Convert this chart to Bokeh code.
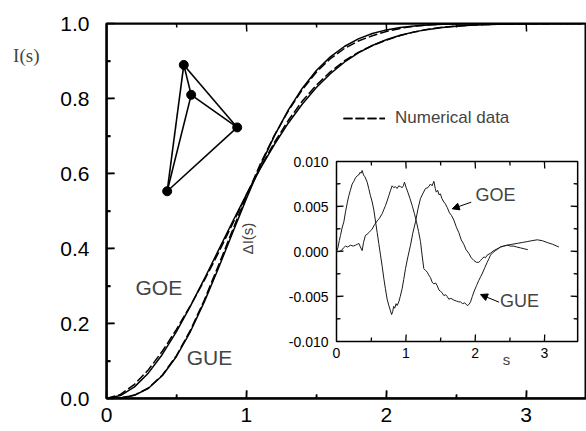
import numpy as np
from bokeh.plotting import figure
from bokeh.models import (Range1d, LinearAxis, FixedTicker, Label, Arrow, NormalHead,
                          Legend, LegendItem)
from bokeh.embed import file_html
from bokeh.resources import INLINE

# ---------------- data ----------------
S_GRID = [0.0, 0.1, 0.2, 0.3, 0.4, 0.5, 0.6, 0.7, 0.8, 0.9, 1.0, 1.1, 1.2, 1.3, 1.4,
          1.5, 1.6, 1.7, 1.8, 1.9, 2.0, 2.1, 2.2, 2.3, 2.4, 2.5, 2.6, 2.7, 2.8, 2.9,
          3.0, 3.1, 3.2, 3.3, 3.4]
I_GOE = [0.0, 0.00782, 0.03093, 0.06825, 0.11809, 0.17828, 0.24629, 0.31943, 0.39510,
         0.47069, 0.54406, 0.61338, 0.67728, 0.73481, 0.78548, 0.82917, 0.86608, 0.89667,
         0.92150, 0.94129, 0.95679, 0.96868, 0.97766, 0.98431, 0.98915, 0.99262, 0.99506,
         0.99674, 0.99788, 0.99865, 0.99915, 0.99947, 0.99968, 0.99981, 0.99989]
I_GUE = [0.0, 0.00107, 0.00839, 0.02725, 0.06130, 0.11200, 0.17861, 0.25843, 0.34734,
         0.44050, 0.53304, 0.62073, 0.70025, 0.76950, 0.82755, 0.87447, 0.91108, 0.93871,
         0.95889, 0.97316, 0.98295, 0.98945, 0.99365, 0.99628, 0.99788, 0.99882, 0.99936,
         0.99966, 0.99983, 0.99991, 0.99996, 0.99998, 0.99999, 1.0, 1.0]
# deviation of the numerical data from theory, read on the same grid
D_GOE_GRID = [0.0, 0.0031, 0.0069, 0.0084, 0.0085, 0.0059, 0.0015, -0.0038, -0.0069, -0.0056,
              -0.0018, 0.0018, 0.0055, 0.0071, 0.0078, 0.0064, 0.0049, 0.0034, 0.0016, -0.0001,
              -0.0011, -0.0008, -0.0003, 0.0002, 0.0006, 0.0007, 0.0005, 0.0003, 0.0002, 0.0,
              0.0, 0.0, 0.0, 0.0, 0.0]
D_GUE_GRID = [0.0, 0.0004, 0.0007, 0.0008, 0.0012, 0.0024, 0.0035, 0.0050, 0.0072, 0.0073,
              0.0072, 0.0049, 0.0016, -0.0023, -0.0036, -0.0044, -0.0050, -0.0054, -0.0057,
              -0.0059, -0.0041, -0.0025, -0.0008, 0.0001, 0.0006, 0.0008, 0.0009, 0.0010,
              0.0012, 0.0013, 0.0011, 0.0008, 0.0005, 0.0, 0.0]

# inset: Delta I(s)
DS_GOE = [0.000, 0.020, 0.040, 0.058, 0.080, 0.106, 0.130, 0.155, 0.178, 0.200, 0.226, 0.250,
          0.275, 0.298, 0.320, 0.340, 0.355, 0.370, 0.390, 0.410, 0.443, 0.465, 0.490, 0.515,
          0.539, 0.560, 0.587, 0.610, 0.635, 0.660, 0.683, 0.705, 0.731, 0.755, 0.779, 0.795,
          0.810, 0.825, 0.840, 0.860, 0.875, 0.899, 0.920, 0.948, 0.970, 0.996, 1.030, 1.068,
          1.100, 1.140, 1.175, 1.212, 1.250, 1.284, 1.320, 1.356, 1.380, 1.405, 1.425, 1.440,
          1.460, 1.480, 1.500, 1.520, 1.549, 1.570, 1.597, 1.630, 1.660, 1.693, 1.730, 1.765,
          1.800, 1.837, 1.870, 1.909, 1.945, 1.982, 2.020, 2.054, 2.080, 2.100, 2.130, 2.150,
          2.174, 2.220, 2.270, 2.320, 2.367, 2.410, 2.463, 2.510, 2.559, 2.600, 2.655, 2.710,
          2.761]
DI_GOE = [0.0000, 0.0004, 0.0012, 0.0018, 0.0026, 0.0033, 0.0044, 0.0054, 0.0062, 0.0068,
          0.0075, 0.0078, 0.0082, 0.0084, 0.0085, 0.0088, 0.0087, 0.0090, 0.0085, 0.0083,
          0.0077, 0.0070, 0.0062, 0.0055, 0.0046, 0.0035, 0.0021, 0.0009, -0.0004, -0.0017,
          -0.0030, -0.0041, -0.0053, -0.0060, -0.0066, -0.0070, -0.0067, -0.0061, -0.0063,
          -0.0058, -0.0060, -0.0056, -0.0050, -0.0041, -0.0031, -0.0019, -0.0006, 0.0007,
          0.0020, 0.0033, 0.0047, 0.0059, 0.0065, 0.0070, 0.0071, 0.0075, 0.0073, 0.0078,
          0.0070, 0.0066, 0.0068, 0.0063, 0.0064, 0.0059, 0.0055, 0.0053, 0.0049, 0.0043,
          0.0040, 0.0035, 0.0027, 0.0021, 0.0013, 0.0008, 0.0002, -0.0002, -0.0007, -0.0010,
          -0.0012, -0.0012, -0.0010, -0.0008, -0.0006, -0.0007, -0.0004, -0.0002, 0.0001,
          0.0003, 0.0005, 0.0006, 0.0007, 0.0006, 0.0006, 0.0005, 0.0004, 0.0003, 0.0002]
DS_GUE = [0.000, 0.040, 0.070, 0.100, 0.130, 0.160, 0.202, 0.240, 0.274, 0.300, 0.322, 0.345,
          0.370, 0.390, 0.418, 0.440, 0.467, 0.490, 0.515, 0.550, 0.587, 0.620, 0.659, 0.685,
          0.707, 0.730, 0.755, 0.780, 0.803, 0.825, 0.851, 0.875, 0.899, 0.925, 0.948, 0.965,
          0.981, 1.005, 1.029, 1.060, 1.092, 1.125, 1.154, 1.185, 1.212, 1.235, 1.260, 1.285,
          1.309, 1.330, 1.356, 1.380, 1.405, 1.430, 1.453, 1.480, 1.500, 1.525, 1.549, 1.575,
          1.597, 1.621, 1.650, 1.693, 1.730, 1.765, 1.789, 1.820, 1.850, 1.886, 1.910, 1.934,
          1.960, 1.982, 2.020, 2.054, 2.080, 2.100, 2.140, 2.174, 2.200, 2.222, 2.260, 2.294,
          2.330, 2.367, 2.410, 2.463, 2.530, 2.607, 2.680, 2.751, 2.820, 2.896, 2.970, 3.040,
          3.120, 3.209]
DI_GUE = [0.0000, 0.0000, 0.0001, 0.0004, 0.0006, 0.0005, 0.0007, 0.0006, 0.0007, 0.0008,
          0.0009, 0.0005, 0.0001, 0.0010, 0.0018, 0.0019, 0.0021, 0.0023, 0.0025, 0.0030,
          0.0034, 0.0037, 0.0042, 0.0047, 0.0051, 0.0056, 0.0062, 0.0068, 0.0073, 0.0071,
          0.0072, 0.0070, 0.0073, 0.0072, 0.0071, 0.0073, 0.0077, 0.0071, 0.0066, 0.0059,
          0.0051, 0.0042, 0.0033, 0.0022, 0.0011, -0.0004, -0.0019, -0.0021, -0.0023, -0.0026,
          -0.0029, -0.0034, -0.0036, -0.0035, -0.0038, -0.0043, -0.0044, -0.0046, -0.0049,
          -0.0048, -0.0050, -0.0053, -0.0052, -0.0054, -0.0055, -0.0056, -0.0056, -0.0058,
          -0.0057, -0.0060, -0.0059, -0.0056, -0.0050, -0.0045, -0.0038, -0.0032, -0.0028,
          -0.0025, -0.0018, -0.0012, -0.0008, -0.0004, -0.0001, 0.0001, 0.0003, 0.0005,
          0.0006, 0.0007, 0.0008, 0.0009, 0.0010, 0.0011, 0.0012, 0.0013, 0.0012, 0.0010,
          0.0008, 0.0005]

# graph drawing (tetrahedron-like) in main-plot coordinates
NODE_X = [0.5525, 0.6054, 0.9342, 0.4336]
NODE_Y = [0.8896, 0.8098, 0.7229, 0.5527]
EDGES = [(0, 1), (0, 2), (0, 3), (1, 2), (1, 3), (2, 3)]

X_TICKS = [0.0, 1.0, 2.0, 3.0]
X_TICK_LABELS = ["0", "1", "2", "3"]
X_MINOR = [0.5, 1.5, 2.5]
Y_TICKS = [0.0, 0.2, 0.4, 0.6, 0.8, 1.0]
Y_MINOR = [0.1, 0.3, 0.5, 0.7, 0.9]
Y_TICK_LABELS = ["0.0", "0.2", "0.4", "0.6", "0.8", "1.0"]
X_MAX = 3.6

IN_X_TICKS = [0.0, 1.0, 2.0, 3.0]
IN_X_LABELS = ["0", "1", "2", "3"]
IN_X_MINOR = [0.5, 1.5, 2.5]
IN_Y_TICKS = [-0.01, -0.005, 0.0, 0.005, 0.01]
IN_Y_LABELS = ["-0.010", "-0.005", "0.000", "0.005", "0.010"]
IN_Y_MINOR = [-0.0075, -0.0025, 0.0025, 0.0075]
IN_X_END = 3.48
IN_Y_MIN, IN_Y_MAX = -0.01, 0.01

FONT = "Liberation Sans"
PX_X, PX_Y = 139.9, 375.0          # main plot pixels per data unit
IPX_X, IPX_Y = 69.3, 9000.0        # inset pixels per data unit
FL, FT, FB = 106, 23, 398          # frame left / top / bottom (px) = axis lines
FW, FH = 586 - FL, FB - FT
SLANT = 0.35


def fa(v):
    return np.asarray(v, dtype=float)


# ---------------- figure ----------------
p = figure(width=586, height=431, output_backend="svg", toolbar_location=None,
           x_range=Range1d(0.0, FW / PX_X), y_range=Range1d(0.0, FH / PX_Y),
           min_border_left=FL, min_border_right=0, min_border_top=FT,
           min_border_bottom=431 - FB)
p.grid.visible = False
p.outline_line_color = "black"
p.outline_line_width = 2
p.background_fill_color = "white"
p.border_fill_color = "white"

p.extra_x_ranges = {"ix": Range1d(-(336 - FL) / IPX_X, -(336 - FL) / IPX_X + FW / IPX_X)}
p.extra_y_ranges = {"iy": Range1d(-(FB - 251) / IPX_Y, (251 - FT) / IPX_Y)}


def style_axis(ax, size, standoff, font=FONT):
    ax.axis_line_color = "black"
    ax.axis_line_width = 2
    ax.major_tick_line_color = "black"
    ax.minor_tick_line_color = "black"
    ax.major_tick_line_width = 1.5
    ax.minor_tick_line_width = 1.5
    ax.major_tick_in = 8
    ax.major_tick_out = 0
    ax.minor_tick_in = 4
    ax.minor_tick_out = 0
    ax.major_label_text_font = font
    ax.major_label_text_color = "black"
    ax.major_label_text_font_size = size
    ax.major_label_standoff = standoff


xa = p.xaxis[0]
xa.ticker = FixedTicker(ticks=X_TICKS, minor_ticks=X_MINOR)
xa.major_label_overrides = {t: l for t, l in zip(X_TICKS, X_TICK_LABELS)}
style_axis(xa, "21px", 9)

ya = p.yaxis[0]
ya.ticker = FixedTicker(ticks=Y_TICKS, minor_ticks=Y_MINOR)
ya.major_label_overrides = {t: l for t, l in zip(Y_TICKS, Y_TICK_LABELS)}
style_axis(ya, "21px", 17)

# outer left axis carrying the "I(s)" title
ISL_Y = 0.915
ya2 = LinearAxis(ticker=FixedTicker(ticks=[ISL_Y], minor_ticks=[]),
                 major_label_overrides={ISL_Y: "I(s)"})
ya2.axis_line_color = None
ya2.major_tick_line_color = None
ya2.minor_tick_line_color = None
ya2.major_tick_in = 0
ya2.major_tick_out = 0
ya2.major_label_text_font = "Liberation Serif"
ya2.major_label_text_font_size = "19px"
ya2.major_label_standoff = 18
p.add_layout(ya2, "left")


def tick_segments(ticks_lens, base, sign, ppx_along, along_x=True):
    a0, b0, a1, b1 = [], [], [], []
    for t, ln in ticks_lens:
        a0.append(t); b0.append(base)
        a1.append(t + SLANT / ppx_along); b1.append(base + sign * ln)
    if along_x:
        return fa(a0), fa(b0), fa(a1), fa(b1)
    return fa(b0), fa(a0), fa(b1), fa(a1)


# frame edges and inward ticks drawn as glyphs as well (top edge ticks included)
p.quad(left=fa([0.0]), right=fa([X_MAX]), bottom=fa([0.0]), top=fa([1.0]),
       fill_color=None, line_color="black", line_width=2)
xt = [(t, 8 / PX_Y) for t in X_TICKS[1:]] + [(t, 4 / PX_Y) for t in X_MINOR]
yt = [(t, 8 / PX_X) for t in Y_TICKS[1:-1]] + [(t, 4 / PX_X) for t in Y_MINOR]
for seg in [tick_segments(xt, 0.0, +1, PX_X), tick_segments(xt, 1.0, -1, PX_X),
            tick_segments(yt, 0.0, +1, PX_Y, along_x=False)]:
    p.segment(*seg, line_color="black", line_width=1.5)

# main curves
I_GOE_NUM = fa(I_GOE) + fa(D_GOE_GRID)
I_GUE_NUM = fa(I_GUE) + fa(D_GUE_GRID)

p.line(fa(S_GRID), fa(I_GOE), line_color="black", line_width=1.5)
p.line(fa(S_GRID), fa(I_GUE), line_color="black", line_width=1.5)
r1 = p.line(fa(S_GRID), I_GOE_NUM, line_color="black", line_width=1.5, line_dash="9 3")
r2 = p.line(fa(S_GRID), I_GUE_NUM, line_color="black", line_width=1.5, line_dash="9 3")

legend = Legend(items=[LegendItem(label="Numerical data", renderers=[r1, r2])],
                location=(343 - FL, FB - 128), border_line_color=None,
                background_fill_alpha=0, padding=0, margin=0, glyph_width=42,
                glyph_height=20, label_standoff=10, label_text_font=FONT,
                label_text_font_size="17px")
p.add_layout(legend)

# graph drawing
ex0 = fa([NODE_X[a] for a, b in EDGES])
ey0 = fa([NODE_Y[a] for a, b in EDGES])
ex1 = fa([NODE_X[b] for a, b in EDGES])
ey1 = fa([NODE_Y[b] for a, b in EDGES])
p.segment(ex0, ey0, ex1, ey1, line_color="black", line_width=1.6)
p.scatter(fa(NODE_X), fa(NODE_Y), size=9, color="black")

# text labels in main plot
for txt, x, y in [("GOE", 0.374, 0.295), ("GUE", 0.736, 0.109)]:
    p.add_layout(Label(x=x, y=y, text=txt, text_font=FONT, text_font_size="21px",
                       text_align="center", text_baseline="middle"))
p.add_layout(Label(x=2.416, y=-0.08, text="s", text_font=FONT, text_font_size="15px",
                   text_align="center", text_baseline="middle"))

# ---------------- inset ----------------
kw = dict(x_range_name="ix", y_range_name="iy")
p.quad(left=fa([0.0]), right=fa([IN_X_END]), bottom=fa([IN_Y_MIN]), top=fa([IN_Y_MAX]),
       fill_color=None, line_color="black", line_width=1.5, **kw)

ixt = [(t, 7 / IPX_Y) for t in IN_X_TICKS[1:]] + [(t, 4 / IPX_Y) for t in IN_X_MINOR]
iyt = [(t, 7 / IPX_X) for t in IN_Y_TICKS[1:-1]] + [(t, 4 / IPX_X) for t in IN_Y_MINOR]
for seg in [tick_segments(ixt, IN_Y_MIN, +1, IPX_X), tick_segments(ixt, IN_Y_MAX, -1, IPX_X),
            tick_segments(iyt, 0.0, +1, IPX_Y, along_x=False),
            tick_segments(iyt, IN_X_END, -1, IPX_Y, along_x=False)]:
    p.segment(*seg, line_color="black", line_width=1.3, **kw)

p.text(fa(IN_X_TICKS), fa([IN_Y_MIN] * len(IN_X_TICKS)), text=IN_X_LABELS, y_offset=6,
       text_align="center", text_baseline="top", text_font_size="14px",
       text_font={"value": FONT}, **kw)
p.text(fa([0.0] * len(IN_Y_TICKS)), fa(IN_Y_TICKS), text=IN_Y_LABELS, x_offset=-8,
       text_align="right", text_baseline="middle", text_font_size="14px",
       text_font={"value": FONT}, **kw)

p.line(fa(DS_GOE), fa(DI_GOE), line_color="#1a1a1a", line_width=1, **kw)
p.line(fa(DS_GUE), fa(DI_GUE), line_color="#1a1a1a", line_width=1, **kw)

for txt, x, y in [("GOE", 2.294, 0.00633), ("GUE", 2.641, -0.0055)]:
    p.add_layout(Label(x=x, y=y, text=txt, text_font=FONT, text_font_size="18px",
                       text_align="center", text_baseline="middle", **kw))
p.add_layout(Label(x=2.453, y=-0.0120, text="s", text_font=FONT, text_font_size="15px",
                   text_align="center", text_baseline="middle", **kw))
p.add_layout(Label(x=-1.28, y=0.00144, text="ΔI(s)", text_font=FONT, text_font_size="15px",
                   angle=np.pi / 2, text_align="center", text_baseline="middle", **kw))

for xs, ys, xe, ye in [(1.944, 0.00548, 1.670, 0.00474), (2.345, -0.00563, 2.078, -0.00478)]:
    p.add_layout(Arrow(end=NormalHead(size=7, fill_color="black", line_color="black",
                                      line_width=1),
                       x_start=xs, y_start=ys, x_end=xe, y_end=ye, line_width=1,
                       line_color="black", **kw))

open("out.html", "w").write(file_html(p, INLINE))
